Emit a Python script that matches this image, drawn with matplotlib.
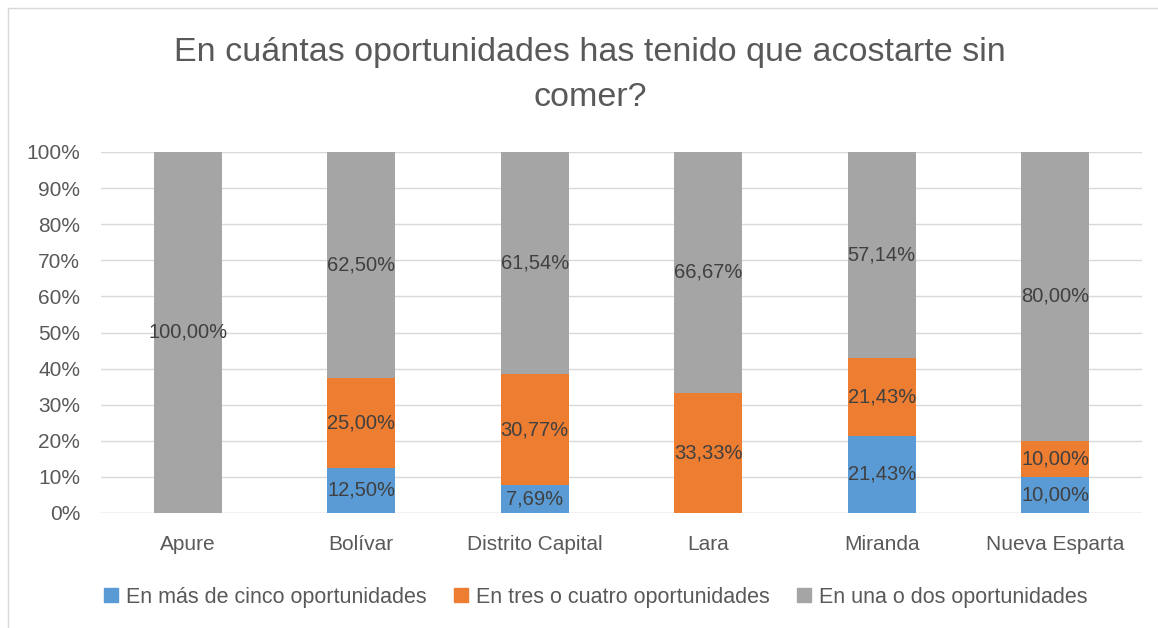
import matplotlib
matplotlib.use("Agg")
import matplotlib.pyplot as plt
from matplotlib.lines import Line2D
import numpy as np

categories = ["Apure", "Bolívar", "Distrito Capital", "Lara", "Miranda", "Nueva Esparta"]
series_names = ["En más de cinco oportunidades", "En tres o cuatro oportunidades", "En una o dos oportunidades"]
mas_cinco = [0.0, 12.50, 7.69, 0.0, 21.43, 10.00]
tres_cuatro = [0.0, 25.00, 30.77, 33.33, 21.43, 10.00]
una_dos = [100.00, 62.50, 61.54, 66.67, 57.14, 80.00]
colors = ["#5B9BD5", "#ED7D31", "#A5A5A5"]
title = "En cuántas oportunidades has tenido que acostarte sin\ncomer?"

plt.rcParams['font.family'] = ['Liberation Sans', 'DejaVu Sans']
txt = "#595959"

fig = plt.figure(figsize=(11.58, 6.28), dpi=100)
ax = fig.add_axes([101/1158, 1-513/628, (1142-101)/1158, (513-152)/628])

x = np.arange(len(categories))
bottom = np.zeros(len(categories))
for vals, name, c in zip([mas_cinco, tres_cuatro, una_dos], series_names, colors):
    v = np.array(vals)
    ax.bar(x, v, 0.39, bottom=bottom, color=c, label=name, zorder=2)
    for xi, b, h in zip(x, bottom, v):
        if h > 0:
            ax.text(xi, b + h/2, f"{h:.2f}%".replace(".", ","), ha="center", va="center",
                    fontsize=14.5, color="#404040", zorder=3)
    bottom += v

ax.set_xlim(-0.5, len(categories)-0.5)
ax.set_ylim(0, 100)
ax.set_yticks(np.arange(0, 101, 10))
ax.set_yticklabels([f"{t}%" for t in range(0, 101, 10)])
ax.set_xticks(x)
ax.set_xticklabels(categories)
ax.tick_params(axis="both", length=0, labelsize=15, colors=txt)
ax.tick_params(axis="y", pad=15)
ax.tick_params(axis="x", pad=16)
ax.yaxis.grid(True, color="#D9D9D9", linewidth=1, zorder=0)
for s in ax.spines.values():
    s.set_visible(False)
ax.axhline(0, color="#D9D9D9", linewidth=1, zorder=1)

fig.text(590/1158, 1-75/628, title, ha="center", va="center", fontsize=24.5,
         color=txt, linespacing=1.55)

handles = [Line2D([], [], marker="s", linestyle="", markersize=10, color=c) for c in colors]
fig.legend(handles, series_names, loc="center", bbox_to_anchor=(595/1158, 1-597/628),
           ncol=3, frameon=False, fontsize=15.5, handletextpad=0.3, columnspacing=1.2,
           labelcolor=txt, handlelength=0.8)

# chart border (top and left visible)
fig.add_artist(Line2D([8/1158, 8/1158], [0, 1-8/628], transform=fig.transFigure, color="#D9D9D9", lw=1))
fig.add_artist(Line2D([8/1158, 1], [1-8/628, 1-8/628], transform=fig.transFigure, color="#D9D9D9", lw=1))

fig.savefig("out.png", dpi=100)
